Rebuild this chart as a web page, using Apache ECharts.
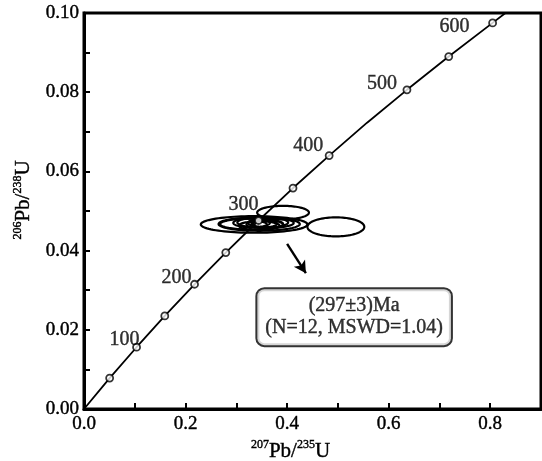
<!DOCTYPE html>
<html><head><meta charset="utf-8">
<script src="https://cdn.jsdelivr.net/npm/echarts@6/dist/echarts.min.js"></script>
<style>html,body{margin:0;padding:0;background:#fff}#c{width:542px;height:461px}</style>
</head><body><div id="c"></div>
<script>
// Concordia points (207Pb/235U, 206Pb/238U) and their ages (Ma)
const concordiaX = [0, 0.0505, 0.1035, 0.1591, 0.2177, 0.2792, 0.3438, 0.4116, 0.4828, 0.5575, 0.6360, 0.7183, 0.8047, 0.830];
const concordiaY = [0, 0.0078, 0.0156, 0.0235, 0.0315, 0.0395, 0.0476, 0.0558, 0.0640, 0.0723, 0.0806, 0.0890, 0.0975, 0.1000];
const concordiaAge = [0, 50, 100, 150, 200, 250, 300, 350, 400, 450, 500, 550, 600, null];
const markedAges = [50, 100, 150, 200, 250, 300, 350, 400, 500, 550, 600];
const labeledAges = [100, 200, 300, 400, 500, 600];

// Error ellipses: centre (x, y) and semi-axes (a, b)
const ellipseCx = [0.335, 0.392, 0.496, 0.345, 0.330, 0.352, 0.345, 0.362, 0.330, 0.355, 0.340, 0.368];
const ellipseCy = [0.0466, 0.0496, 0.0460, 0.0467, 0.0467, 0.0471, 0.0463, 0.0466, 0.0470, 0.0468, 0.0466, 0.0470];
const ellipseA  = [0.105, 0.051, 0.056, 0.080, 0.062, 0.050, 0.040, 0.030, 0.036, 0.025, 0.020, 0.045];
const ellipseB  = [0.0021, 0.0017, 0.0024, 0.0017, 0.0014, 0.0013, 0.0011, 0.0010, 0.0011, 0.0009, 0.0008, 0.0012];

const resultText = ['(297\u00B13)Ma', '(N=12, MSWD=1.04)'];
const xTicks = [0.0, 0.2, 0.4, 0.6, 0.8];
const yTicks = [0.00, 0.02, 0.04, 0.06, 0.08, 0.10];

// ---- build ----
const FONT = 'Liberation Serif';
const ptOf = age => { const i = concordiaAge.indexOf(age); return [concordiaX[i], concordiaY[i]]; };
const lineData = concordiaX.map((x, i) => [x, concordiaY[i]]);
const markerData = markedAges.map(ptOf);
const labelOffsets = {100: [-12, -7], 200: [-18, -7], 300: [-15, -16], 400: [-21, -10], 500: [-25, -6], 600: [-38, 4]};
const labelData = labeledAges.map(a => ({value: ptOf(a), name: String(a), label: {offset: labelOffsets[a]}}));
const ellipseData = ellipseCx.map((cx, i) => [cx, ellipseCy[i], ellipseA[i], ellipseB[i]]);

const chart = echarts.init(document.getElementById('c'), null, {renderer: 'canvas'});
const plainText = {color: '#000', fontFamily: FONT, textBorderColor: '#000', textBorderWidth: 0.4, textShadowBlur: 0};
const richSup = {
  base: Object.assign({fontSize: 21, lineHeight: 24}, plainText),
  sup: Object.assign({fontSize: 12, verticalAlign: 'top', lineHeight: 24, padding: [0, 0, 8, 0]}, plainText)
};
chart.setOption({
  animation: false,
  backgroundColor: '#fff',
  grid: {left: 84, right: 1, top: 13, bottom: 52, outerBoundsMode: 'none', containLabel: false,
    show: true, borderColor: '#000', borderWidth: 3, backgroundColor: 'transparent'},
  xAxis: {
    type: 'value', min: 0, max: 0.9, interval: 0.1,
    name: '{sup|207}{base|Pb/}{sup|235}{base|U}', nameLocation: 'middle', nameGap: 30,
    nameTextStyle: {rich: richSup, padding: [0, 44, 0, 0]},
    axisLine: {lineStyle: {color: '#000', width: 3}},
    axisTick: {inside: true, length: 6, lineStyle: {color: '#000', width: 2}},
    axisLabel: Object.assign({fontSize: 19, margin: 6,
      formatter: v => { const r = Math.round(v * 10) / 10; return xTicks.some(t => Math.abs(t - r) < 1e-9) ? r.toFixed(1) : ''; }}, plainText),
    splitLine: {show: false}
  },
  yAxis: {
    type: 'value', min: 0, max: 0.1, interval: 0.01,
    name: '{sup|206}{base|Pb/}{sup|238}{base|U}', nameLocation: 'middle', nameGap: 36, nameRotate: 90,
    nameTextStyle: {rich: richSup, padding: [0, 0, 0, 22]},
    axisLine: {lineStyle: {color: '#000', width: 3}},
    axisTick: {inside: true, length: 6, lineStyle: {color: '#000', width: 2}},
    axisLabel: Object.assign({fontSize: 19, margin: 5,
      formatter: v => { const r = Math.round(v * 100) / 100; return yTicks.some(t => Math.abs(t - r) < 1e-9) ? r.toFixed(2) : ''; }}, plainText),
    splitLine: {show: false}
  },
  series: [
    {type: 'line', data: lineData, showSymbol: false, symbol: 'none', lineStyle: {color: '#000', width: 1.8}, z: 2, silent: true,
     markLine: {silent: true, symbol: ['none', 'arrow'], symbolSize: [10, 12],
       lineStyle: {color: '#000', width: 2.4, type: 'solid'}, label: {show: false},
       data: [[{coord: [0.400, 0.0417]}, {coord: [0.437, 0.0343]}]]}},
    {type: 'custom', data: ellipseData, z: 3, silent: true,
     renderItem: function (params, api) {
       const c = api.coord([api.value(0), api.value(1)]);
       const s = api.size([api.value(2), api.value(3)]);
       const pts = [];
       for (let i = 0; i < 90; i++) { const t = i / 90 * 2 * Math.PI; pts.push([c[0] + s[0] * Math.cos(t), c[1] + s[1] * Math.sin(t)]); }
       return {type: 'polygon', shape: {points: pts}, style: {fill: 'none', stroke: '#000', lineWidth: 2.2}};
     }},
    {type: 'scatter', data: markerData, symbol: 'circle', symbolSize: 7, z: 4, silent: true,
     itemStyle: {color: '#fff', borderColor: '#000', borderWidth: 1.8}},
    {type: 'scatter', data: labelData, symbolSize: 0, z: 5, silent: true,
     label: Object.assign({show: true, position: 'inside', formatter: p => p.name, fontSize: 20}, plainText)},
    {type: 'scatter', data: [[0.532, 0.0232]], symbolSize: 0, z: 6, silent: true,
     label: Object.assign({show: true, position: 'inside', formatter: resultText.join('\n'), fontSize: 20,
       lineHeight: 22, align: 'center', backgroundColor: '#fff', borderColor: '#000', borderWidth: 2, borderRadius: 7,
       padding: [6, 8, 6, 8]}, plainText)}
  ]
});
</script></body></html>
